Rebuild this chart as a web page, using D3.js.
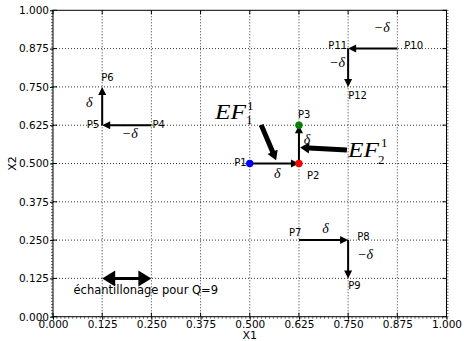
<!DOCTYPE html>
<html><head><meta charset="utf-8">
<script src="https://cdn.jsdelivr.net/npm/d3@7"></script>
<style>body{margin:0;background:#fff}svg{display:block}</style>
</head><body>
<svg id="chart" width="464" height="341"></svg>
<script>
// ---- data ----
const tickValues = [0, 0.125, 0.25, 0.375, 0.5, 0.625, 0.75, 0.875, 1.0];
const tickLabels = ["0.000","0.125","0.250","0.375","0.500","0.625","0.750","0.875","1.000"];
const pointNames = ["P1","P2","P3","P4","P5","P6","P7","P8","P9","P10","P11","P12"];
const pointX = [0.5, 0.625, 0.625, 0.25, 0.125, 0.125, 0.625, 0.75, 0.75, 0.875, 0.75, 0.75];
const pointY = [0.5, 0.5, 0.625, 0.625, 0.625, 0.75, 0.25, 0.25, 0.125, 0.875, 0.875, 0.75];
const arrowFrom = [0, 1, 3, 4, 6, 7, 9, 10];
const arrowTo   = [1, 2, 4, 5, 7, 8, 10, 11];
const arrowLabels = ["δ", "δ", "−δ", "δ", "δ", "−δ", "−δ", "−δ"];
const dotIndex = [0, 1, 2];
const dotColors = ["#0000ff", "#ff0000", "#008000"];
const samplingX = [0.125, 0.25];
const samplingY = 0.125;
const samplingLabel = "échantillonage pour Q=9";
const efNames = ["EF", "EF"];
const efSup = ["1", "1"];
const efSub = ["1", "2"];
const efTailX = [0.529, 0.747];
const efTailY = [0.626, 0.544];
const efHeadX = [0.567, 0.628];
const efHeadY = [0.511, 0.552];
const xLabel = "X1", yLabel = "X2";

// ---- layout ----
const L = 53, R = 446.5, T = 10.3, B = 316.7;
const svg = d3.select("#chart");
const x = d3.scaleLinear().domain([0, 1]).range([L, R]);
const y = d3.scaleLinear().domain([0, 1]).range([B, T]);
const sans = "'DejaVu Sans', sans-serif";
const serif = "'Liberation Serif', 'DejaVu Serif', serif";

// grid
const grid = svg.append("g").attr("stroke", "#000").attr("stroke-width", 0.8).attr("stroke-dasharray", "1,2");
tickValues.slice(1, -1).forEach(v => {
  grid.append("line").attr("x1", x(v)).attr("x2", x(v)).attr("y1", T).attr("y2", B);
  grid.append("line").attr("y1", y(v)).attr("y2", y(v)).attr("x1", L).attr("x2", R);
});

// minor ticks
const minor = d3.range(0, 1.0001, 0.01);
const mt = svg.append("g").attr("stroke", "#000").attr("stroke-width", 0.6);
minor.forEach(v => {
  mt.append("line").attr("x1", L - 2).attr("x2", L).attr("y1", y(v)).attr("y2", y(v));
  mt.append("line").attr("x1", R).attr("x2", R + 2).attr("y1", y(v)).attr("y2", y(v));
  mt.append("line").attr("y1", B).attr("y2", B + 2).attr("x1", x(v)).attr("x2", x(v));
});

// axes via d3
const xAxis = svg.append("g").attr("transform", `translate(0,${B})`)
  .call(d3.axisBottom(x).tickValues(tickValues).tickFormat((d, i) => tickLabels[i]).tickSizeInner(3).tickSizeOuter(0).tickPadding(1));
const yAxis = svg.append("g").attr("transform", `translate(${L},0)`)
  .call(d3.axisLeft(y).tickValues(tickValues).tickFormat((d, i) => tickLabels[i]).tickSizeInner(3).tickSizeOuter(0).tickPadding(1));
[xAxis, yAxis].forEach(a => {
  a.select(".domain").remove();
  a.selectAll("text").attr("font-family", sans).attr("font-size", "10.5px").attr("fill", "#000");
  a.selectAll("line").attr("stroke", "#000");
});
// inward parts of major ticks
tickValues.forEach(v => {
  svg.append("line").attr("x1", x(v)).attr("x2", x(v)).attr("y1", B).attr("y2", B - 4).attr("stroke", "#000");
  svg.append("line").attr("x1", L).attr("x2", L + 4).attr("y1", y(v)).attr("y2", y(v)).attr("stroke", "#000");
  svg.append("line").attr("x1", R).attr("x2", R - 4).attr("y1", y(v)).attr("y2", y(v)).attr("stroke", "#000");
  svg.append("line").attr("x1", x(v)).attr("x2", x(v)).attr("y1", T).attr("y2", T + 4).attr("stroke", "#000");
});

// frame
svg.append("rect").attr("x", L).attr("y", T).attr("width", R - L).attr("height", B - T)
  .attr("fill", "none").attr("stroke", "#000").attr("stroke-width", 1);

// axis labels
svg.append("text").attr("x", (L + R) / 2).attr("y", 339).attr("text-anchor", "middle")
  .attr("font-family", sans).attr("font-size", "11px").text(xLabel);
svg.append("text").attr("transform", `translate(16,${(T + B) / 2}) rotate(-90)`).attr("text-anchor", "middle")
  .attr("font-family", sans).attr("font-size", "11px").text(yLabel);

// arrow polygon helper (pixel space)
function arrowPoly(x1, y1, x2, y2, shaftW, headL, headHW, both) {
  const dx = x2 - x1, dy = y2 - y1, len = Math.hypot(dx, dy);
  const ux = dx / len, uy = dy / len, nx = -uy, ny = ux;
  const p = (a, b) => [x1 + ux * a + nx * b, y1 + uy * a + ny * b];
  const sw = shaftW / 2;
  let pts;
  if (both) {
    pts = [p(0, 0), p(headL, headHW), p(headL, sw), p(len - headL, sw), p(len - headL, headHW), p(len, 0),
           p(len - headL, -headHW), p(len - headL, -sw), p(headL, -sw), p(headL, -headHW)];
  } else {
    pts = [p(0, sw), p(len - headL, sw), p(len - headL, headHW), p(len, 0), p(len - headL, -headHW), p(len - headL, -sw), p(0, -sw)];
  }
  return pts.map(q => q.join(",")).join(" ");
}

// move arrows
const deltaOffsets = [[3, 10], [8, -5], [3, 8], [-13, -4], [2, -12], [17, -5], [9, -22], [-11, -6]];
arrowFrom.forEach((f, i) => {
  const t = arrowTo[i];
  svg.append("polygon").attr("points", arrowPoly(x(pointX[f]), y(pointY[f]), x(pointX[t]), y(pointY[t]), 2, 8, 4, false))
    .attr("fill", "#000");
  const mx = (x(pointX[f]) + x(pointX[t])) / 2, my = (y(pointY[f]) + y(pointY[t])) / 2;
  svg.append("text").attr("x", mx + deltaOffsets[i][0]).attr("y", my + deltaOffsets[i][1]).attr("dy", "0.35em")
    .attr("text-anchor", "middle").attr("font-family", serif).attr("font-style", "italic").attr("font-size", "14px")
    .text(arrowLabels[i]);
});

// dots
dotIndex.forEach((k, i) => {
  svg.append("circle").attr("cx", x(pointX[k])).attr("cy", y(pointY[k])).attr("r", 3.7).attr("fill", dotColors[i]);
});

// point labels
const labelPos = [[-3, 2, "end"], [8, 15, "start"], [-1, -7, "start"], [1, 3, "start"], [-3, 3, "end"], [-1, -6, "start"],
                  [-10, -4, "start"], [9, 0, "start"], [0, 11, "start"], [7, 0, "start"], [-1, 0, "end"], [0, 12, "start"]];
pointNames.forEach((n, i) => {
  svg.append("text").attr("x", x(pointX[i]) + labelPos[i][0]).attr("y", y(pointY[i]) + labelPos[i][1])
    .attr("text-anchor", labelPos[i][2]).attr("font-family", sans).attr("font-size", "10px").text(n);
});

// sampling double arrow
svg.append("polygon").attr("points", arrowPoly(x(samplingX[0]), y(samplingY), x(samplingX[1]), y(samplingY), 3, 13, 8, true))
  .attr("fill", "#000");
svg.append("text").attr("x", (x(samplingX[0]) + x(samplingX[1])) / 2 + 19).attr("y", y(samplingY) + 16)
  .attr("text-anchor", "middle").attr("font-family", sans).attr("font-size", "11.5px").text(samplingLabel);

// EF annotations
const efTextPos = [[215, 119], [348, 157]];
const efSupPos = [[247, 110], [381, 147]];
const efSubPos = [[246, 124], [378, 164]];
efNames.forEach((n, i) => {
  svg.append("polygon").attr("points", arrowPoly(x(efTailX[i]), y(efTailY[i]), x(efHeadX[i]), y(efHeadY[i]), 5, 9, 5.5, false))
    .attr("fill", "#000");
  svg.append("text").attr("x", efTextPos[i][0]).attr("y", efTextPos[i][1]).attr("font-family", serif)
    .attr("font-style", "italic").attr("font-size", "22px").attr("textLength", 31).attr("lengthAdjust", "spacingAndGlyphs").text(n);
  svg.append("text").attr("x", efSupPos[i][0]).attr("y", efSupPos[i][1]).attr("font-family", serif)
    .attr("font-size", "13px").text(efSup[i]);
  svg.append("text").attr("x", efSubPos[i][0]).attr("y", efSubPos[i][1]).attr("font-family", serif)
    .attr("font-size", "13px").text(efSub[i]);
});
</script>
</body></html>
